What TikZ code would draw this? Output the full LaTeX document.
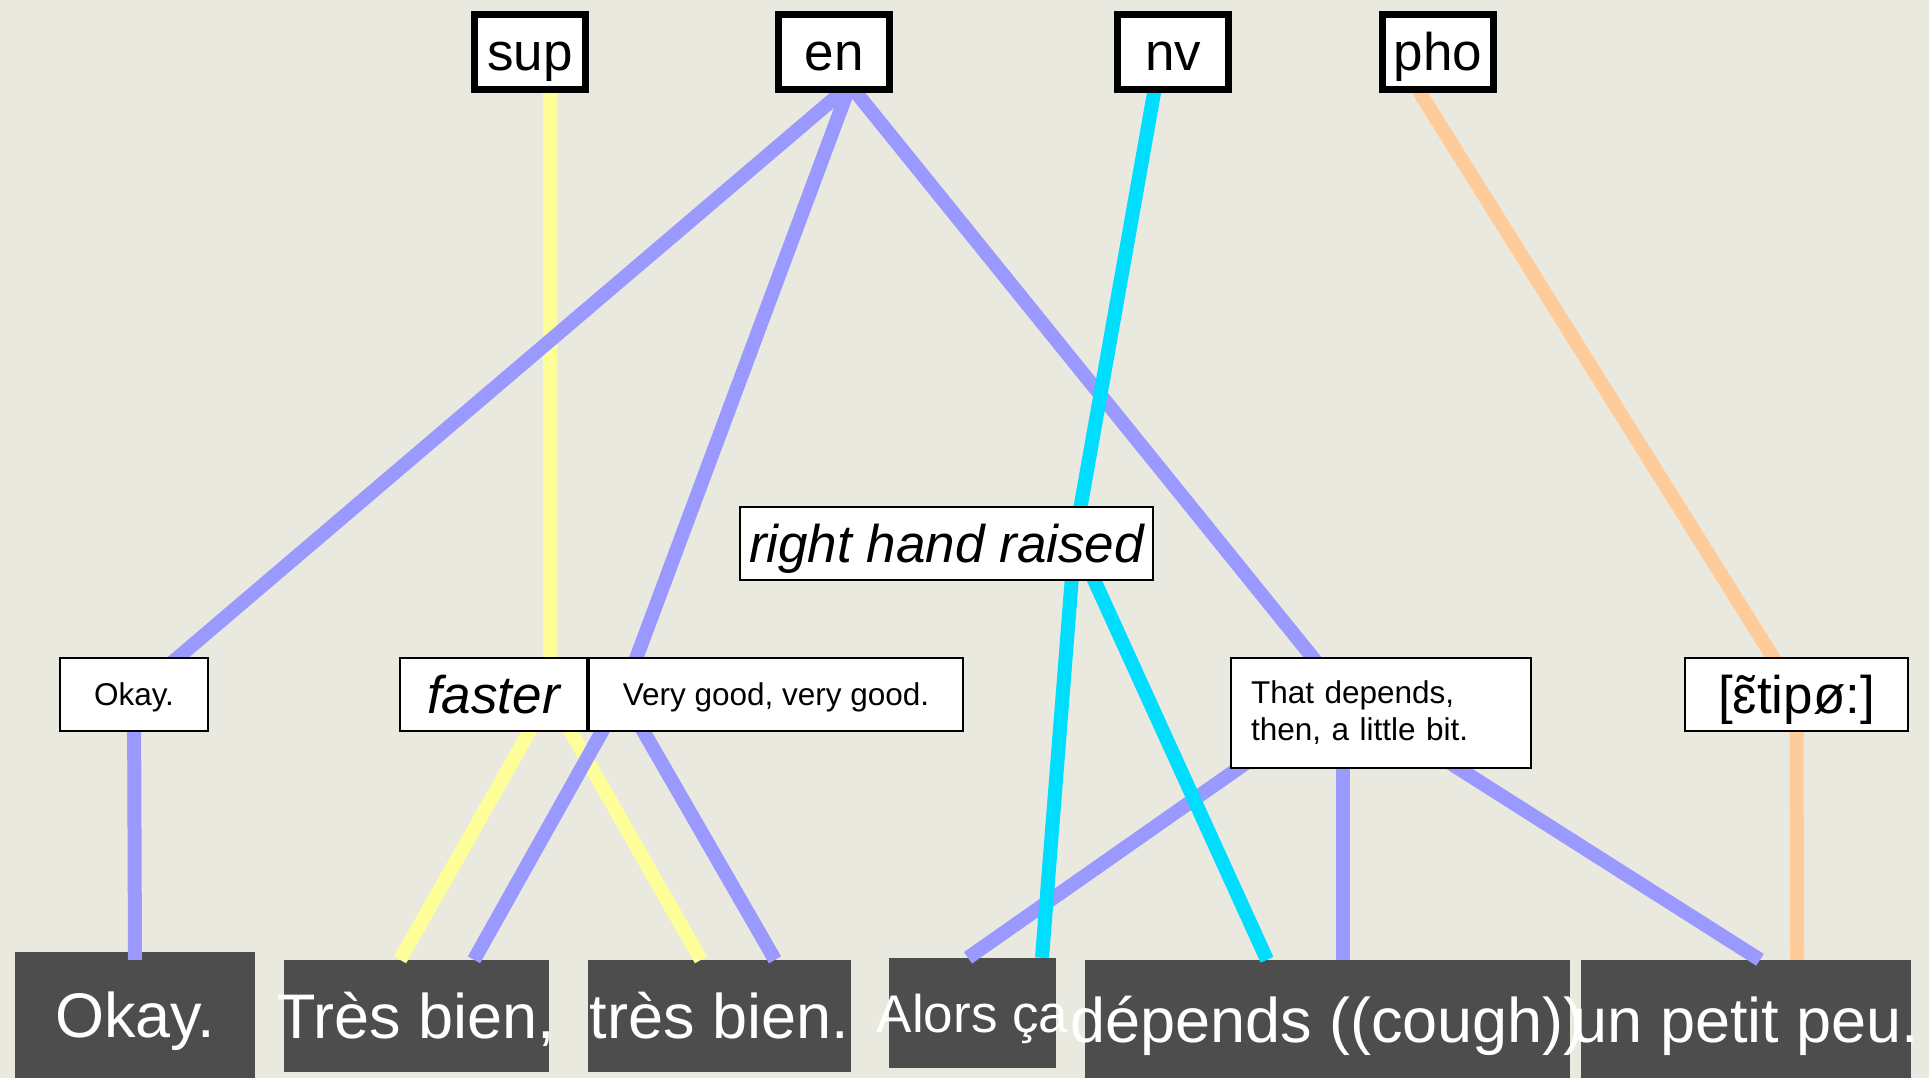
\documentclass[tikz,border=0pt]{standalone}
\usepackage{fontspec}
\setmainfont{Liberation Sans}

\definecolor{paper}{RGB}{233,233,224}
\definecolor{tokgray}{RGB}{77,77,77}
\definecolor{enblue}{RGB}{153,153,255}
\definecolor{supyellow}{RGB}{255,255,153}
\definecolor{nvcyan}{RGB}{0,221,255}
\definecolor{phoorange}{RGB}{255,204,153}

\pgfdeclarelayer{tokens}
\pgfdeclarelayer{links}
\pgfsetlayers{tokens,links,main}

% token text may run past its box
\newcommand{\spill}[1]{\makebox[0pt]{#1}}

\tikzset{
  tier/.style={draw, line width=7pt, fill=white, inner sep=0pt,
    minimum width=111pt, minimum height=75pt, text height=38pt, text depth=0pt,
    font=\fontsize{53}{60}\selectfont},
  notebox/.style={draw, line width=2pt, fill=white, inner sep=0pt,
    font=\fontsize{31.5}{37}\selectfont},
  gloss/.style={notebox, minimum height=73pt, text height=22.5pt, text depth=0pt},
  biggloss/.style={gloss, font=\fontsize{53}{60}\selectfont, text height=38pt},
  comment/.style={biggloss, font=\fontsize{53}{60}\selectfont\itshape},
  token/.style={fill=tokgray, text=white, inner sep=0pt,
    text height=45pt, text depth=0pt, font=\fontsize{63}{70}\selectfont},
  link/.style={line width=14pt},
}

\begin{document}
\begin{tikzpicture}[x=1pt, y=-1pt]
            \useasboundingbox (0,0) rectangle (1929,1078);

            % tiers
            \node[tier] (sup) at (530,52) {sup};
            \node[tier] (en) at (834,52) {en};
            \node[tier] (nv) at (1173,52) {nv};
            \node[tier] (pho) at (1438,52) {pho};

            % annotations
            \node[gloss, minimum width=148pt] (okay) at (134,694.5) {Okay.};
            \node[comment, minimum width=187pt] (faster) at (493.5,694.5) {faster};
            \node[gloss, minimum width=374pt] (verygood) at (776,694.5) {Very good, very good.};
            \node[notebox, minimum width=300pt, minimum height=110pt, text width=260pt,
              align=left, inner xsep=20pt] (depends) at (1381,713) {That depends,\\then, a little bit.};
            \node[comment, minimum width=413pt] (raised) at (946.5,543) {right hand raised};
            \node[biggloss, minimum width=223pt] (ipa) at (1796.5,694.5) {[ɛ̃tipø:]};

            % tokens
            \begin{pgfonlayer}{tokens}
              \fill[paper] (0,0) rectangle (1929,1078);
              \node[token, minimum width=240pt, minimum height=126pt] (t1) at (135,1015) {\spill{Okay.}};
              \node[token, minimum width=265pt, minimum height=112pt] (t2) at (416.5,1016) {\spill{Très bien,}};
              \node[token, minimum width=263pt, minimum height=112pt] (t3) at (719.5,1016) {\spill{très bien.}};
              \node[token, minimum width=167pt, minimum height=110pt, text height=38pt,
                font=\fontsize{53}{60}\selectfont] (t4) at (972.5,1013) {\spill{Alors ça}};
              \node[token, minimum width=485pt, minimum height=120pt] (t5) at (1327.5,1020) {\spill{dépends ((cough))}};
              \node[token, minimum width=330pt, minimum height=120pt] (t6) at (1746,1020) {\spill{un petit peu.}};
            \end{pgfonlayer}

            % where the links meet each box
            \coordinate (sup-foot) at ([xshift=20pt,yshift=8pt]sup.south);
            \coordinate (en-foot) at ([xshift=16pt,yshift=8pt]en.south);
            \coordinate (nv-foot) at ([xshift=-17.6pt,yshift=8pt]nv.south);
            \coordinate (pho-foot) at ([xshift=-23pt,yshift=8pt]pho.south);
            \coordinate (okay-a) at (134,695);
            \coordinate (faster-a) at (550,695);
            \coordinate (verygood-a) at (622.5,695);
            \coordinate (depends-a) at (1343,695);
            \coordinate (raised-a) at (1075,538);
            \coordinate (ipa-a) at (1796.5,695);

            \begin{pgfonlayer}{links}
            \begin{scope}[link, draw=supyellow]
              \draw (sup-foot) -- (faster-a);
              \draw (faster-a) -- ([xshift=-16.5pt]t2.north);
              \draw (faster-a) -- ([xshift=-18.5pt]t3.north);
            \end{scope}
            \begin{scope}[link, draw=enblue]
              \draw (en-foot) -- (okay-a);
              \draw (en-foot) -- (verygood-a);
              \draw (en-foot) -- (depends-a);
              \draw (okay-a) -- ([yshift=-8pt]t1.north);
              \draw (verygood-a) -- ([xshift=57.5pt]t2.north);
              \draw (verygood-a) -- ([xshift=55.5pt]t3.north);
              \draw (depends-a) -- ([xshift=-4.5pt]t4.north);
              \draw (depends-a) -- ([xshift=15.5pt]t5.north);
              \draw (depends-a) -- ([xshift=14pt]t6.north);
            \end{scope}
            \begin{scope}[link, draw=nvcyan]
              \draw (nv-foot) -- (raised-a);
              \draw (raised-a) -- ([xshift=69.5pt]t4.north);
              \draw (raised-a) -- ([xshift=-60.5pt]t5.north);
            \end{scope}
            \begin{scope}[link, draw=phoorange]
              \draw (pho-foot) -- (ipa-a);
              \draw (ipa-a) -- ([xshift=51pt]t6.north);
            \end{scope}
            \end{pgfonlayer}
\end{tikzpicture}
\end{document}
